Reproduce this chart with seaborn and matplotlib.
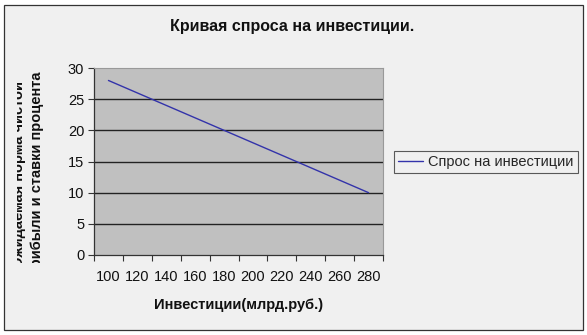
import matplotlib
matplotlib.use("Agg")
import matplotlib.pyplot as plt
import seaborn as sns
import pandas as pd
from matplotlib.patches import Rectangle

categories = ["100", "120", "140", "160", "180", "200", "220", "240", "260", "280"]
demand = [28, 26, 24, 22, 20, 18, 16, 14, 12, 10]
yticks = [0, 5, 10, 15, 20, 25, 30]

title = "Кривая спроса на инвестиции."
xlabel = "Инвестиции(млрд.руб.)"
ylabel = "Ожидаемая норма чистой\nприбыли и ставки процента"
series_name = "Спрос на инвестиции"

sns.set_theme(style="white")
plt.rcParams["font.family"] = ["Liberation Sans", "DejaVu Sans"]

W, H = 587, 335
fig = plt.figure(figsize=(W / 100, H / 100), dpi=100)
fig.patch.set_facecolor("white")

# chart area background with border
bg = Rectangle((4 / W, 1 - 330 / H), 579 / W, 325 / H,
               transform=fig.transFigure, facecolor="#f0f0f0",
               edgecolor="#333333", linewidth=0.9, zorder=-10)
fig.patches.append(bg)

ax = fig.add_axes([94 / W, 1 - 255 / H, (383 - 94) / W, (255 - 68) / H])
ax.set_zorder(1)
ax.set_facecolor("#c0c0c0")

df = pd.DataFrame({"cat": categories, "val": demand, "s": series_name})
sns.lineplot(data=df, x="cat", y="val", hue="s", palette=["#3333aa"],
             linewidth=1.0, ax=ax, sort=False, zorder=3)

ax.set_xlim(-0.5, len(categories) - 0.5)
ax.set_ylim(0, 30)
ax.set_yticks(yticks)
ax.set_yticklabels([str(v) for v in yticks], fontsize=10.5, color="#111111")
for v in yticks[1:-1]:
    ax.axhline(v, color="#222222", linewidth=1.0, zorder=1)

ax.set_xticks([i - 0.5 for i in range(len(categories) + 1)])
ax.set_xticklabels([""] * (len(categories) + 1))
ax.set_xticks(range(len(categories)), minor=True)
ax.set_xticklabels(categories, minor=True, fontsize=10.5, color="#111111")
ax.tick_params(axis="x", which="minor", length=0, pad=11)
ax.tick_params(axis="x", which="major", length=4, width=0.8, color="#333333", direction="out", bottom=True)
ax.tick_params(axis="y", length=4, width=0.8, color="#333333", direction="out", left=True, pad=3)

for side in ["top", "right"]:
    ax.spines[side].set_color("#999999")
    ax.spines[side].set_linewidth(0.8)
for side in ["left", "bottom"]:
    ax.spines[side].set_color("#333333")
    ax.spines[side].set_linewidth(0.9)

ax.set_xlabel("")
ax.set_ylabel("")

fig.text(292 / W, 1 - 27 / H, title, ha="center", va="center",
         fontsize=11.5, fontweight="bold", color="#111111")
fig.text(239 / W, 1 - 305 / H, xlabel, ha="center", va="center",
         fontsize=10.5, fontweight="bold", color="#111111")
yl = fig.text(28 / W, 1 - 174 / H, ylabel, ha="center", va="center",
              rotation=90, fontsize=10.5, fontweight="bold", color="#111111",
              linespacing=1.35, multialignment="center")
clip = Rectangle((16.5 / W, 1 - 263 / H), 70 / W, 200 / H, transform=fig.transFigure,
                 facecolor="none", edgecolor="none")
yl.set_clip_path(clip)
yl.set_clip_on(True)

leg = ax.legend(loc="center left", bbox_to_anchor=(394 / W, 1 - 162 / H),
                bbox_transform=fig.transFigure, fontsize=10.5, frameon=True,
                fancybox=False, handlelength=1.7, borderpad=0.3,
                handletextpad=0.35, borderaxespad=0)
leg.get_frame().set_edgecolor("#333333")
leg.get_frame().set_facecolor("#f0f0f0")
leg.get_frame().set_linewidth(0.8)

fig.savefig("out.png", dpi=100)
